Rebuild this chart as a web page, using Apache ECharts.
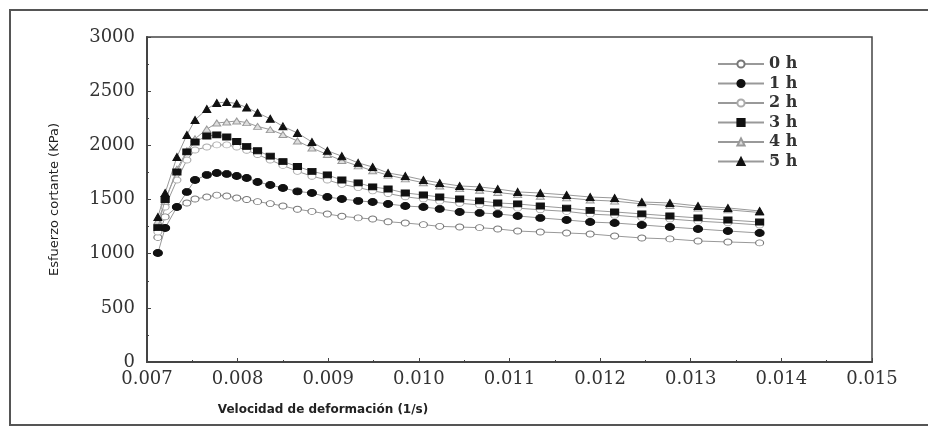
<!DOCTYPE html>
<html><head><meta charset="utf-8">
<script src="https://cdn.jsdelivr.net/npm/echarts@6/dist/echarts.min.js"></script>
<style>html,body{margin:0;padding:0;background:#fff;}#c{width:928px;height:427px;}</style>
</head><body><div id="c"></div>
<script>
var xVals = [0.00712,0.00720,0.00733,0.00744,0.00753,0.00766,0.00777,0.00788,0.00799,0.00810,0.00822,0.00836,0.00850,0.00866,0.00882,0.00899,0.00915,0.00933,0.00949,0.00966,0.00985,0.01005,0.01023,0.01045,0.01067,0.01087,0.01109,0.01134,0.01163,0.01189,0.01216,0.01246,0.01277,0.01308,0.01341,0.01376];
var h0 = [1150,1339,1431,1468,1505,1523,1540,1532,1514,1500,1480,1462,1440,1410,1390,1366,1345,1330,1320,1295,1283,1268,1252,1246,1240,1228,1209,1200,1191,1182,1163,1145,1136,1117,1108,1099];
var h1 = [1006,1237,1431,1570,1680,1727,1745,1736,1717,1699,1662,1634,1606,1575,1560,1523,1505,1487,1477,1459,1440,1431,1413,1385,1376,1367,1348,1330,1311,1292,1283,1265,1246,1228,1209,1191];
var h2 = [1200,1431,1680,1865,1957,1985,2004,2004,1985,1955,1915,1865,1815,1760,1715,1680,1640,1610,1580,1555,1525,1505,1485,1465,1450,1435,1420,1405,1390,1365,1355,1335,1320,1300,1285,1265];
var h3 = [1240,1500,1754,1939,2031,2086,2096,2077,2035,1990,1950,1900,1850,1805,1760,1727,1680,1653,1616,1597,1560,1542,1523,1505,1487,1468,1459,1440,1420,1400,1385,1367,1348,1330,1311,1292];
var h4 = [1300,1480,1780,1950,2060,2150,2206,2215,2225,2210,2175,2145,2100,2040,1975,1915,1860,1810,1765,1725,1690,1655,1625,1600,1585,1565,1545,1530,1515,1495,1485,1460,1445,1420,1405,1380];
var h5 = [1339,1560,1893,2096,2234,2335,2391,2400,2385,2350,2300,2245,2175,2114,2031,1950,1900,1838,1800,1745,1717,1680,1653,1625,1616,1597,1570,1560,1542,1523,1514,1477,1468,1440,1422,1394];
var seriesNames = ['0 h','1 h','2 h','3 h','4 h','5 h'];
var xTicks = {min:0.007, max:0.015, interval:0.001};
var yTicks = {min:0, max:3000, interval:500};

var allY = [h0,h1,h2,h3,h4,h5];
var styles = [
  {symbol:'circle', size:[8,6], color:'#fff', border:'#777'},
  {symbol:'circle', size:[9,7], color:'#111', border:'#111'},
  {symbol:'circle', size:[8,6], color:'#fff', border:'#aaa'},
  {symbol:'rect', size:[8,6], color:'#111', border:'#111'},
  {symbol:'triangle', size:[8,6], color:'#ddd', border:'#999'},
  {symbol:'triangle', size:[8,7], color:'#111', border:'#111'}
];
function pairs(ys){ return xVals.map(function(x,i){ return [x, ys[i]]; }); }
var series = allY.map(function(ys, k){
  var s = styles[k];
  return {
    name: seriesNames[k], type:'line', data: pairs(ys),
    symbol: s.symbol, symbolSize: s.size, showSymbol:true,
    lineStyle:{color:'#999', width:1},
    itemStyle:{color:s.color, borderColor:s.border, borderWidth:1},
    z: 2 + (k%2===1 ? 1 : 0)
  };
});
var serif = '"DejaVu Serif", "Liberation Serif", serif';
var chart = echarts.init(document.getElementById('c'));
chart.setOption({
  animation:false,
  backgroundColor:'#fff',
  grid:{left:147, right:56, top:37, bottom:65, show:true, borderColor:'#444', borderWidth:1.5, containLabel:false},
  legend:{
    orient:'vertical', left:712, top:51, itemWidth:46, itemHeight:9, itemGap:3.5,
    data: seriesNames,
    textStyle:{fontFamily:serif, fontWeight:'bold', fontSize:16, color:'#333', lineHeight:12}
  },
  xAxis:{
    type:'value', min:xTicks.min, max:xTicks.max, interval:xTicks.interval,
    axisLine:{show:true, lineStyle:{color:'#444', width:2}},
    axisTick:{show:true, inside:true, length:4, lineStyle:{color:'#444'}},
    minorTick:{show:true, splitNumber:2, length:2, lineStyle:{color:'#444'}},
    splitLine:{show:false},
    axisLabel:{fontFamily:serif, fontSize:18, color:'#333', margin:8,
      formatter:function(v){ return v.toFixed(3); }}
  },
  yAxis:{
    type:'value', min:yTicks.min, max:yTicks.max, interval:yTicks.interval,
    name:'Esfuerzo cortante (KPa)', nameLocation:'middle', nameGap:86,
    nameTextStyle:{fontFamily:'"DejaVu Sans", sans-serif', fontSize:13, color:'#222'},
    axisLine:{show:true, lineStyle:{color:'#444', width:2}},
    axisTick:{show:true, inside:true, length:4, lineStyle:{color:'#444'}},
    minorTick:{show:true, splitNumber:2, length:2, lineStyle:{color:'#444'}},
    splitLine:{show:false},
    axisLabel:{fontFamily:serif, fontSize:18, color:'#333', margin:12,
      formatter:function(v){ return String(v); }}
  },
  graphic:[
    {type:'rect', shape:{x:10, y:10, width:930, height:415}, style:{fill:'none', stroke:'#555', lineWidth:2}, silent:true},
    {type:'text', x:323, y:410, style:{text:'Velocidad de deformación (1/s)', font:'bold 12px "DejaVu Sans", sans-serif', fill:'#222', textAlign:'center', textVerticalAlign:'middle'}}
  ],
  series: series
});
</script></body></html>
